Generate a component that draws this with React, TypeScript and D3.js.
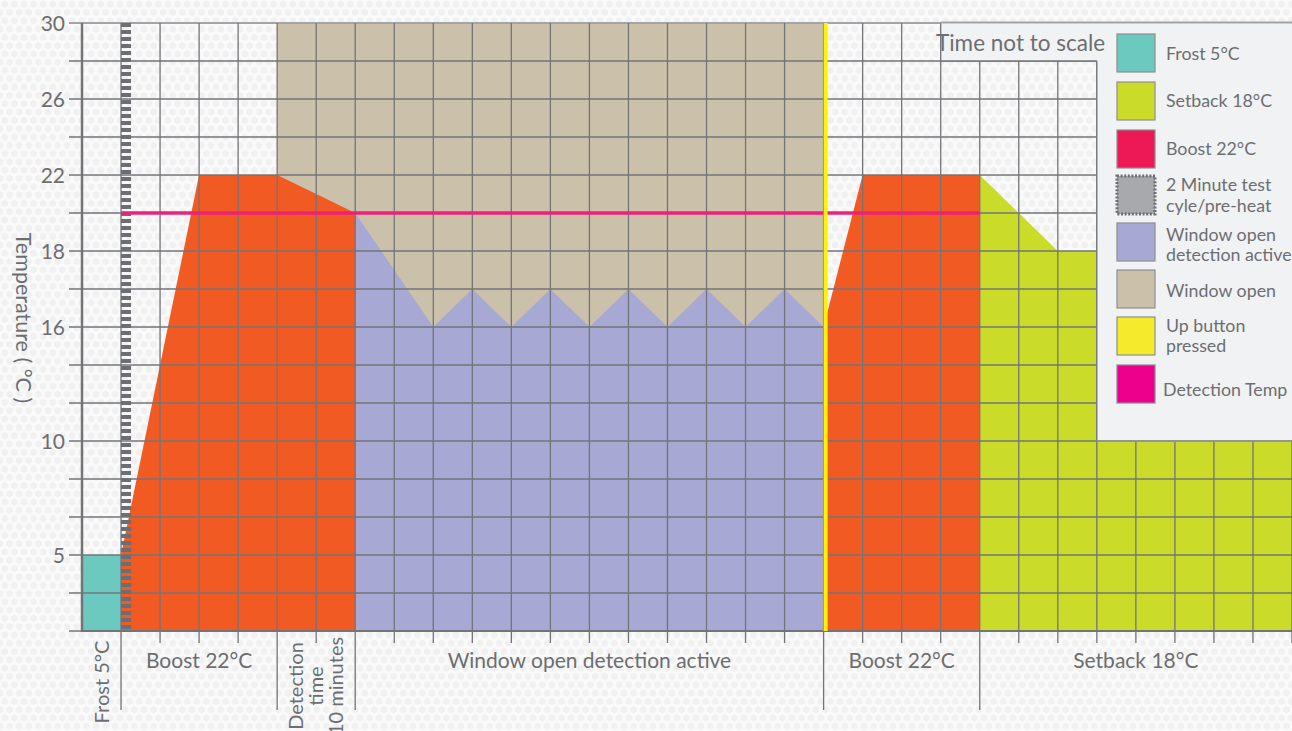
import React from "react";
import * as d3 from "d3";

// ---------- data ----------
const COLS = 31; // time columns (time not to scale)
const yTickLabels = ["30", "", "26", "", "22", "", "18", "", "16", "", "", "10", "", "", "5", "", ""];
const axisBottomValue = 0;

const frostSeries: [number, number][] = [[0, 5], [1, 5]];
const boostSeries1: [number, number][] = [[1, 5], [3, 22], [5, 22], [7, 20]];
const windowOpenSeries: [number, number][] = [[5, 30], [19, 30]];
const detectionActiveSeries: [number, number][] = [
  [7, 20], [9, 16], [10, 17], [11, 16], [12, 17], [13, 16], [14, 17],
  [15, 16], [16, 17], [17, 16], [18, 17], [19, 16],
];
const boostSeries2: [number, number][] = [[19, 16], [20, 22], [23, 22]];
const setbackSeries: [number, number][] = [[23, 22], [25, 18], [31, 18]];
const detectionTemp = 20;
const detectionSpan = [1, 23];
const upButtonTime = 19;
const testCycleTime = 1;
const phaseBoundaries = [1, 5, 7, 19, 23];

const phaseLabels = [
  { lines: ["Frost 5°C"], from: 0, to: 1, rotated: true },
  { lines: ["Boost 22°C"], from: 1, to: 5, rotated: false },
  { lines: ["Detection", "time", "10 minutes"], from: 5, to: 7, rotated: true },
  { lines: ["Window open detection active"], from: 7, to: 19, rotated: false },
  { lines: ["Boost 22°C"], from: 19, to: 23, rotated: false },
  { lines: ["Setback 18°C"], from: 23, to: 31, rotated: false },
];

const legendItems = [
  { lines: ["Frost 5°C"], color: "#6cc9bf", kind: "solid" },
  { lines: ["Setback 18°C"], color: "#cbdb2a", kind: "solid" },
  { lines: ["Boost 22°C"], color: "#ed1957", kind: "solid" },
  { lines: ["2 Minute test", "cyle/pre-heat"], color: "#a7a9ac", kind: "dashed" },
  { lines: ["Window open", "detection active"], color: "#a8a8d4", kind: "solid" },
  { lines: ["Window open"], color: "#cbc0aa", kind: "solid" },
  { lines: ["Up button", "pressed"], color: "#f5ea2c", kind: "solid" },
  { lines: ["Detection Temp"], color: "#ec008c", kind: "solid" },
];

// ---------- colours ----------
const C = {
  frost: "#6cc9bf",
  boost: "#f15a22",
  windowOpen: "#cbc0aa",
  active: "#a8a8d4",
  setback: "#cbdb2a",
  yellow: "#fff200",
  pink: "#ee2079",
  grid: "#737478",
  text: "#6d6e71",
  panel: "#f1f2f4",
};
const FONT = "Lato, 'Open Sans', sans-serif";

export default function App() {
  const W = 1292, H = 731;
  const left = 82, right = 1292, top = 23, bottom = 631;
  const ROWS = yTickLabels.length - 1;

  const x = d3.scaleLinear().domain([0, COLS]).range([left, right]);
  const rowY = d3.scaleLinear().domain([0, ROWS]).range([top, bottom]);
  // piecewise temperature -> grid row mapping (axis is not linear)
  const pairs: [number, number][] = yTickLabels
    .map((l, i) => [l === "" ? NaN : +l, i] as [number, number])
    .filter((p) => !isNaN(p[0]));
  pairs.push([axisBottomValue, ROWS]);
  pairs.sort((a, b) => a[0] - b[0]);
  const tempRow = d3.scaleLinear().domain(pairs.map((p) => p[0])).range(pairs.map((p) => p[1]));
  const y = (v: number) => rowY(tempRow(v));

  const area = d3
    .area<[number, number]>()
    .x((d) => x(d[0]))
    .y0(y(axisBottomValue))
    .y1((d) => y(d[1]));

  const rows = d3.range(0, ROWS + 1);
  const cols = d3.range(1, COLS + 1);

  const panelPath = `M${x(22)},${top} H${right} V${rowY(11)} H${x(26)} V${rowY(1)} H${x(22)} Z`;

  const legendX = 1117;
  const legendSwatchY = [34, 82, 130, 176, 223, 270, 317, 365];
  const legendBaselines = [[60], [107], [155], [191, 212], [241, 261], [297], [332, 352], [396]];

  const hexPts = (cx: number, cy: number) =>
    d3.range(6).map((k) => {
      const a = (Math.PI / 3) * k + Math.PI / 6;
      return `${cx + 3.7 * Math.cos(a)},${cy + 3.7 * Math.sin(a)}`;
    }).join(" ");

  return (
    <svg width={W} height={H} style={{ position: "absolute", left: 0, top: 0 }} fontFamily={FONT}>
      <defs>
        <pattern id="hex" width="9.6" height="16.6" patternUnits="userSpaceOnUse">
          <rect width="9.6" height="16.6" fill="#fafafa" />
          {[[4.8, 4.15], [0, 12.45], [9.6, 12.45], [4.8, -4.15], [4.8, 20.75]].map(([cx, cy], i) => (
            <polygon key={i} fill="#f0f0f1" points={hexPts(cx, cy)} />
          ))}
        </pattern>
      </defs>
      <rect width={W} height={H} fill="url(#hex)" />

      {/* areas */}
      <path d={area(windowOpenSeries) || ""} fill={C.windowOpen} />
      <path d={area(frostSeries) || ""} fill={C.frost} />
      <path d={area(boostSeries1) || ""} fill={C.boost} />
      <path d={area(detectionActiveSeries) || ""} fill={C.active} />
      <path d={area(boostSeries2) || ""} fill={C.boost} />
      <path d={area(setbackSeries) || ""} fill={C.setback} />

      {/* grid */}
      {rows.map((r) => (
        <line key={"h" + r} x1={69} x2={right} y1={rowY(r)} y2={rowY(r)} stroke={r === 0 ? "#a3a4a7" : C.grid} strokeWidth={r === 0 ? 2 : 1.3} />
      ))}
      {cols.map((c) => (
        <line
          key={"v" + c}
          x1={x(c)} x2={x(c)} y1={top}
          y2={phaseBoundaries.includes(c) ? 710 : 643}
          stroke={C.grid} strokeWidth={1.3}
        />
      ))}
      <line x1={left} x2={left} y1={top} y2={bottom + 1} stroke={C.grid} strokeWidth={2.5} />
      <line x1={left} x2={right} y1={bottom} y2={bottom} stroke={C.grid} strokeWidth={2.2} />

      {/* test cycle */}
      <line x1={x(testCycleTime) + 5} x2={x(testCycleTime) + 5} y1={top} y2={bottom} stroke="#6d6e71" strokeWidth={10} strokeDasharray="4 3" />

      {/* detection temp */}
      <line x1={x(detectionSpan[0])} x2={x(detectionSpan[1])} y1={y(detectionTemp)} y2={y(detectionTemp)} stroke={C.pink} strokeWidth={3.5} />

      {/* up button */}
      <rect x={x(upButtonTime)} y={top} width={4} height={bottom - top} fill={C.yellow} />

      {/* legend panel */}
      <path d={panelPath} fill={C.panel} />
      <line x1={x(22)} x2={x(22)} y1={top} y2={rowY(1)} stroke={C.grid} strokeWidth={1.3} />
      <line x1={x(22)} x2={x(26)} y1={rowY(1)} y2={rowY(1)} stroke={C.grid} strokeWidth={1.3} />
      <line x1={x(26)} x2={x(26)} y1={rowY(1)} y2={rowY(11)} stroke={C.grid} strokeWidth={1.3} />
      <line x1={x(26)} x2={right} y1={rowY(11)} y2={rowY(11)} stroke="#939497" strokeWidth={2} />
      <line x1={x(22)} x2={right} y1={top - 0.5} y2={top - 0.5} stroke="#a3a4a7" strokeWidth={2} />

      <text x={936} y={51} fontSize={22.5} fill={C.text}>Time not to scale</text>

      {legendItems.map((it, i) => (
        <g key={"lg" + i}>
          <rect
            x={legendX} y={legendSwatchY[i]} width={38} height={38}
            fill={it.color}
            stroke={it.kind === "dashed" ? "#6d6e71" : "#8d8e91"}
            strokeWidth={it.kind === "dashed" ? 3 : 1.2}
            strokeDasharray={it.kind === "dashed" ? "2 1.6" : undefined}
          />
          {it.lines.map((ln, j) => (
            <text key={j} x={i === 7 ? 1163 : 1166} y={legendBaselines[i][j]} fontSize={17.8} fill={C.text}>{ln}</text>
          ))}
        </g>
      ))}

      {/* y axis labels */}
      {yTickLabels.map((l, i) =>
        l ? (
          <text key={"yl" + i} x={65} y={rowY(i) + 7.5} textAnchor="end" fontSize={21} fill={C.text}>{l}</text>
        ) : null
      )}
      <text transform="translate(16,318) rotate(90)" textAnchor="middle" fontSize={21.5} fill={C.text}>Temperature ( °C )</text>

      {/* phase labels */}
      {phaseLabels.map((p, i) => {
        const cx = (x(p.from) + x(p.to)) / 2;
        if (!p.rotated) {
          return (
            <text key={"pl" + i} x={cx} y={668} textAnchor="middle" fontSize={21} fill={C.text}>{p.lines[0]}</text>
          );
        }
        const n = p.lines.length;
        const lh = 20;
        return (
          <g key={"pl" + i}>
            {p.lines.map((ln, j) => (
              <text
                key={j}
                transform={`translate(${cx + 7 + (j - (n - 1) / 2) * lh},${n === 1 ? 682 : 686}) rotate(-90)`}
                textAnchor="middle" fontSize={20} fill={C.text}
              >{ln}</text>
            ))}
          </g>
        );
      })}
    </svg>
  );
}
